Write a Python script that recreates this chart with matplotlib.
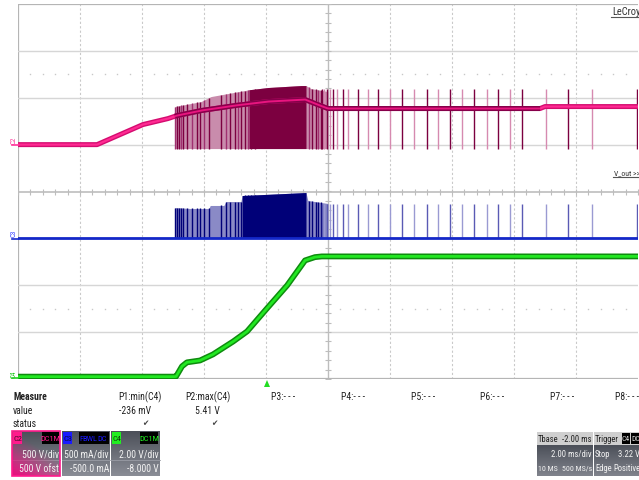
import numpy as np
import matplotlib.pyplot as plt
import matplotlib.colors as mcolors
from matplotlib import font_manager
from matplotlib.font_manager import FontProperties
from matplotlib.patches import Rectangle, Polygon

# scope channel settings (from the readout boxes)
c2_scale, c2_offset = 500.0, 500.0     # V/div, V
c3_scale, c3_offset = 500.0, -500.0    # mA/div, mA
c4_scale, c4_offset = 2.0, -8.0        # V/div, V
ms_per_div = 2.0
t_start = -8.0

# C2 (pink) - input voltage, V
c2_t = [-8.0, -5.45, -3.97, -3.16, -2.87, -2.10, -1.00, 0.06, 1.26, 1.58, 2.00, 8.84, 9.00, 12.0]
c2_v = [0, 0, 214, 278, 310, 363, 417, 459, 481, 438, 385, 385, 406, 406]
c2_env_t = [-2.94, -2.10, -1.77, -1.23, -0.68, -0.55, 0.06, 1.13, 1.29, 1.45, 2.00]
c2_env_top = [406, 459, 513, 545, 577, 585, 609, 630, 630, 598, 566]
c2_env_bottom = -42
c2_spike_top = 598

# C3 (blue) - current, mA
c3_t = [-8.0, 12.0]
c3_i = [0, 0]
c3_env_t = [-2.94, -2.45, -1.84, -1.80, -1.36, -1.29, -0.81, -0.77, 1.29, 1.35, 2.00]
c3_env_top = [329, 319, 319, 351, 351, 393, 393, 457, 489, 404, 372]
c3_spike_top = 372

# C4 (green) - output voltage, V
c4_t = [-8.0, -2.95, -2.90, -2.71, -2.55, -2.13, -1.71, -1.06, -0.61, 0.03, 0.68, 1.26, 1.58, 1.80, 12.0]
c4_v = [0.10, 0.10, 0.11, 0.54, 0.71, 0.79, 1.05, 1.60, 2.03, 3.01, 3.99, 5.06, 5.20, 5.23, 5.23]

# switching events, ms
dense_c2 = (-0.55, 1.29)
dense_c3 = (-0.77, 1.29)
burst_spike_t = [-2.94, -2.87, -2.81, -2.74, -2.68, -2.55, -2.39, -2.23, -2.13, -2.00, -1.84,
                 -1.45, -1.29, -1.16, -1.00, -0.90, -0.81, -0.68, -0.58, -0.48, -0.35,
                 1.39, 1.48, 1.61, 1.68, 1.77]
sparse_spike_t = [1.81, 1.87, 1.97, 2.06, 2.16, 2.29, 2.48, 2.65, 2.97, 3.29, 3.61, 4.00, 4.39,
                  4.77, 5.19, 5.55, 5.94, 6.32, 6.71, 7.13, 7.48, 7.87, 8.26, 9.03, 9.74, 10.52, 11.97]
c2_dark_span = (-2.94, 8.84)

measure_names = ["P1:min(C4)", "P2:max(C4)", "P3:- - -", "P4:- - -", "P5:- - -", "P6:- - -", "P7:- - -", "P8:- - -"]
measure_values = ["-236 mV", "5.41 V"]


def pos(vals, scale, offset):
    return (np.asarray(vals, dtype=float) + offset) / scale


# pick a narrow font if one is installed (scope UI uses a condensed face)
def find_narrow(bold):
    best = None
    for f in font_manager.fontManager.ttflist:
        narrowish = ('Narrow' in f.name or 'Condensed' in f.name or
                     f.stretch in ('condensed', 'semi-condensed', 'extra-condensed', 'ultra-condensed'))
        if not narrowish or f.style != 'normal':
            continue
        w = f.weight if isinstance(f.weight, int) else (700 if 'bold' in str(f.weight) else 400)
        if (w >= 600) != bold:
            continue
        rank = 0 if 'Liberation' in f.name else (1 if 'Roboto' in f.name else 2)
        if best is None or rank < best[0]:
            best = (rank, f.fname)
    return best[1] if best else None


reg_file = find_narrow(False)
bold_file = find_narrow(True) or reg_file
size_k = 1.0 if reg_file else 0.85


def fp(size, bold=False):
    if reg_file:
        return FontProperties(fname=bold_file if bold else reg_file, size=size)
    return FontProperties(family='Liberation Sans', size=size * size_k,
                          weight='bold' if bold else 'normal')


fig = plt.figure(figsize=(6.39, 4.81), dpi=100)
fig.patch.set_facecolor('white')

ax = fig.add_axes([18 / 639, 101 / 481, 620 / 639, 375 / 481])
ax.set_xlim(t_start, t_start + 10 * ms_per_div)
ax.set_ylim(-4, 4)
ax.axis('off')

# graticule
for t in np.arange(t_start + ms_per_div, t_start + 10 * ms_per_div, ms_per_div):
    if abs(t - 2.0) > 1e-6:
        ax.axvline(t, color='#c9c9c9', lw=0.8, ls=(0, (2, 2)), zorder=1)
ax.axvline(2.0, color='#bdbdbd', lw=1.0, zorder=1)
ax.axvline(t_start, color='#b5b5b5', lw=1.6, zorder=1)
for y in [-3, -2, -1, 1, 2, 3]:
    ax.axhline(y, color='#d6d6d6', lw=1.0, zorder=1)
ax.axhline(0, color='#bdbdbd', lw=1.2, zorder=1)
ax.axhline(4, color='#b5b5b5', lw=1.6, zorder=1)
ax.axhline(-4, color='#b5b5b5', lw=1.6, zorder=1)
minor_t = [t for t in np.arange(t_start, 12.01, 0.4)
           if 0.05 < (t - t_start) / ms_per_div % 1 < 0.95]
for y in [2.5, -2.5]:
    ax.plot(minor_t, [y] * len(minor_t), ls='none', marker='s', ms=1.0, color='#c8c8c8', mew=0, zorder=1)
ax.plot(np.arange(t_start, 12.01, 0.4), np.zeros(51), ls='none', marker='|', ms=4,
        color='#bdbdbd', mew=0.8, zorder=1)
ax.plot(np.full(41, 2.0), np.arange(-4, 4.01, 0.2), ls='none', marker='_', ms=4,
        color='#bdbdbd', mew=0.8, zorder=1)

# C2 switching envelope
et = np.array(c2_env_t)
etop = pos(c2_env_top, c2_scale, c2_offset)
ebot = pos(np.full(len(et), c2_env_bottom), c2_scale, c2_offset)
ax.fill_between(et, ebot, etop, color='#c98cac', lw=0, zorder=2)
m = (et >= dense_c2[0]) & (et <= dense_c2[1])
ax.fill_between(et[m], ebot[m], etop[m], color='#7c0040', lw=0, zorder=2)
for i, t in enumerate(burst_spike_t):
    ax.vlines(t, ebot[0], np.interp(t, et, etop), color='#7c0040' if i % 3 else '#a03070',
              lw=1.0, zorder=2)
for i, t in enumerate(sparse_spike_t):
    ax.vlines(t, pos(c2_env_bottom, c2_scale, c2_offset), pos(c2_spike_top, c2_scale, c2_offset),
              color='#7c0040' if i % 2 == 0 else '#d68ab0', lw=1.0, zorder=2)
c2t = np.array(c2_t)
c2y = pos(c2_v, c2_scale, c2_offset)
ax.plot(c2t, c2y, color='#d40c70', lw=3.6, solid_capstyle='butt', zorder=3)
ax.plot(c2t, c2y, color='#ff2a92', lw=1.6, solid_capstyle='butt', zorder=3)
# darker band while the converter is switching
seg = np.linspace(*c2_dark_span, 200)
segy = np.interp(seg, c2t, c2y)
ax.plot(seg, segy, color='#86004a', lw=3.6, solid_capstyle='butt', zorder=3)
ax.plot(seg, segy, color='#e8157f', lw=1.4, solid_capstyle='butt', zorder=3)

# C3 current
ct = np.array(c3_env_t)
ctop = pos(c3_env_top, c3_scale, c3_offset)
cbot = pos(np.zeros(len(ct)), c3_scale, c3_offset)
ax.fill_between(ct, cbot, ctop, color='#8a8ac6', lw=0, zorder=2)
m = (ct >= dense_c3[0]) & (ct <= dense_c3[1])
ax.fill_between(ct[m], cbot[m], ctop[m], color='#000078', lw=0, zorder=2)
for t in burst_spike_t:
    ax.vlines(t, cbot[0], np.interp(t, ct, ctop), color='#000078', lw=1.0, zorder=2)
for i, t in enumerate(sparse_spike_t):
    ax.vlines(t, cbot[0], pos(c3_spike_top, c3_scale, c3_offset),
              color='#5a5ab4' if i % 2 == 0 else '#9a9ad2', lw=1.0, zorder=2)
ax.plot(c3_t, pos(c3_i, c3_scale, c3_offset), color='#1428c8', lw=2.0, zorder=3)

# C4 output
c4y = pos(c4_v, c4_scale, c4_offset)
ax.plot(c4_t, c4y, color='#0e8c0e', lw=4.2, zorder=4)
ax.plot(c4_t, c4y, color='#22e822', lw=2.0, zorder=4)

# overlay in pixel coordinates for the scope annotations
ov = fig.add_axes([0, 0, 1, 1], zorder=5)
ov.patch.set_visible(False)
ov.axis('off')


def txt(x, y, s, size=7, bold=False, **kw):
    kw.setdefault('va', 'center')
    kw.setdefault('zorder', 4)
    ov.text(x, y, s, fontproperties=fp(size, bold), **kw)


txt(612, 12, 'LeCroy', 7.5, color='#333333')
ov.plot([611, 638], [18, 18], color='#555555', lw=0.8)
txt(614, 173, 'V_out >>', 5.5, color='#333333')
ov.plot([613, 638], [178, 178], color='#555555', lw=0.8)

for lab, y, c in [('C2', 140, '#ff3399'), ('C3', 233, '#3340ff'), ('C4', 374, '#22cc22')]:
    txt(14, y, lab, 5, color=c, rotation=90, ha='center')
ov.plot([12, 18], [146, 146], color='#ff3399', lw=1.2)
ov.plot([12, 18], [239.5, 239.5], color='#1428c8', lw=1.2)
ov.plot([12, 18], [379, 379], color='#22cc22', lw=1.2)
ov.add_patch(Polygon([[264, 388], [270, 388], [267, 381]], closed=True, color='#22dd22', lw=0))

# measure table
fs = 7
txt(13, 397, 'Measure', fs, bold=True, color='#222222')
txt(13, 411, 'value', fs, color='#222222')
txt(13, 424, 'status', fs, color='#222222')
p_x = [118, 185, 271, 341, 411, 480, 550, 615]
p_w = [33, 35]
for i, name in enumerate(measure_names):
    txt(p_x[i], 397, name, fs, color='#222222')
for i, val in enumerate(measure_values):
    txt(p_x[i] + p_w[i], 411, val, fs, color='#222222', ha='right')
    ov.text(p_x[i] + p_w[i] - 3, 424, '\u2714', fontsize=5.5, color='#444444', va='center',
            ha='right', family='DejaVu Sans')


def gradient_box(x0, y0, x1, y1, ctop, cbot):
    g = np.linspace(0, 1, 40)[:, None, None]
    img = np.array(mcolors.to_rgb(ctop)) * (1 - g) + np.array(mcolors.to_rgb(cbot)) * g
    ov.imshow(img, extent=(x0, x1, y1, y0), aspect='auto', interpolation='bilinear', zorder=1)


def tag(x0, x1, y0, y1, s, fc, tc, size=6):
    ov.add_patch(Rectangle((x0, y0), x1 - x0, y1 - y0, facecolor=fc, edgecolor='none', zorder=3))
    txt((x0 + x1) / 2, (y0 + y1) / 2, s, size, color=tc, ha='center')


# channel boxes
boxes = [
    (12, 60, 'C2', '#ff1a8c', '#4a0a2a', [(42, 59, 'DC1M')], '500 V/div', '500 V ofst'),
    (62, 110, 'C3', '#1a1aff', '#0a0a40', [(79, 84, 'F'), (84, 96, 'BWL'), (96, 109, 'DC')], '500 mA/div', '-500.0 mA'),
    (111, 160, 'C4', '#22ee22', '#0a400a', [(140, 158, 'DC1M')], '2.00 V/div', '-8.000 V'),
]
for x0, x1, lab, col, dark, tags, l1, l2 in boxes:
    gradient_box(x0, 432, x1, 477, '#4c5059', '#8a8d96')
    ov.plot([x0, x1], [461, 461], color='#9a9da5', lw=0.6, zorder=2)
    if lab == 'C2':
        yy, xx = np.mgrid[0:1:30j, 0:1:30j]
        rgba = np.zeros((30, 30, 4))
        rgba[..., :3] = mcolors.to_rgb('#e8107e')
        rgba[..., 3] = np.clip(yy * 1.1 - xx * 0.7, 0, 1) * 0.95
        ov.imshow(rgba, extent=(x0, x1, 477, 432), aspect='auto', interpolation='bilinear', zorder=2)
        ov.add_patch(Rectangle((x0, 432), x1 - x0, 45, fill=False, edgecolor=col, lw=1.2, zorder=3))
    tag(x0 + 1, x0 + 10, 433, 445, lab, col, dark)
    for tx0, tx1, s in tags:
        tag(tx0, tx1, 433, 445, s, '#000000', col)
    txt(x1 - 1, 455, l1, fs, color='#f2f2f2', ha='right')
    txt(x1 - 1, 469, l2, fs, color='#f2f2f2', ha='right')

# timebase and trigger boxes
fb = 6.2
for x0, x1 in [(537, 593), (594, 640)]:
    gradient_box(x0, 446, x1, 477, '#4c5059', '#80838c')
    ov.add_patch(Rectangle((x0, 433), x1 - x0, 13, facecolor='#cfcfcf', edgecolor='none', zorder=2))
txt(538, 439.5, 'Tbase', fb, color='#222222')
txt(592, 439.5, '-2.00 ms', fb, color='#222222', ha='right')
txt(592, 455, '2.00 ms/div', fb, color='#f2f2f2', ha='right')
txt(538, 469, '10 MS', 5.7, color='#f2f2f2')
txt(592, 469, '500 MS/s', 5.7, color='#f2f2f2', ha='right')
txt(595, 439.5, 'Trigger', fb, color='#222222')
tag(622, 630, 434, 445, 'C4', '#000000', '#dddddd', 5.5)
tag(631, 640, 434, 445, 'DC', '#000000', '#dddddd', 5.5)
txt(595, 455, 'Stop', fb, color='#f2f2f2')
txt(618, 455, '3.22 V', fb, color='#f2f2f2')
txt(595, 469, 'Edge', fb, color='#f2f2f2')
txt(613, 469, 'Positive', fb, color='#f2f2f2')

ov.set_xlim(0, 639)
ov.set_ylim(481, 0)

fig.savefig('out.png', dpi=100)
